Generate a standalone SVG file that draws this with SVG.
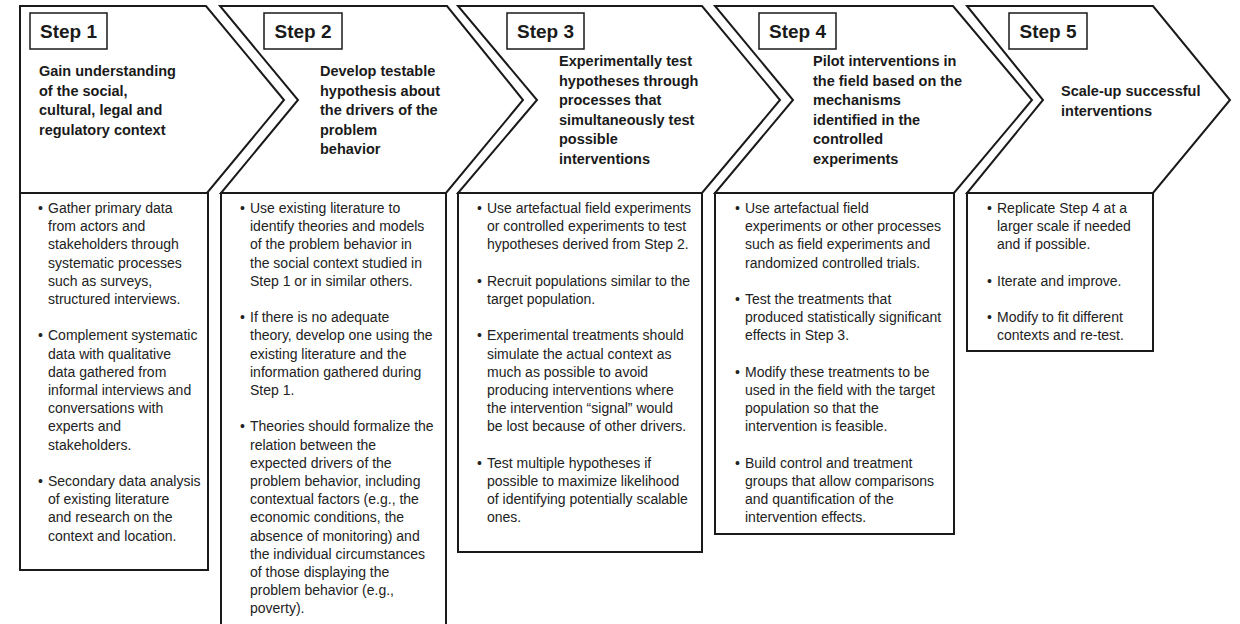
<svg xmlns="http://www.w3.org/2000/svg" width="1240" height="624" viewBox="0 0 1240 624">
<style>
.shape{fill:#fff;stroke:#1a1a1a;stroke-width:2;stroke-linejoin:miter}
.lbl{fill:#fff;stroke:#1a1a1a;stroke-width:1.5}
.lt{font-family:"Liberation Sans",Arial,sans-serif;font-weight:bold;font-size:19px;fill:#1a1a1a;text-anchor:middle}
.hd{font-family:"Liberation Sans",Arial,sans-serif;font-weight:bold;font-size:14.5px;fill:#1a1a1a}
.bd{font-family:"Liberation Sans",Arial,sans-serif;font-size:14px;fill:#222}
</style>
<rect width="1240" height="624" fill="#fff"/>

<g id="step1">
<polygon class="shape" points="20,6 206,6 284,100 207,193 20,193"/>
<rect class="shape" x="20" y="193" width="188" height="377"/>
<rect class="lbl" x="30" y="13" width="77" height="36"/>
<text class="lt" x="68.5" y="38">Step 1</text>
<text class="hd"><tspan x="39" y="76">Gain understanding</tspan><tspan x="39" y="95.5">of the social,</tspan><tspan x="39" y="115">cultural, legal and</tspan><tspan x="39" y="134.5">regulatory context</tspan></text>
<text class="bd"><tspan x="38" y="213">•</tspan><tspan x="48" y="213">Gather primary data</tspan><tspan x="48" y="231.2">from actors and</tspan><tspan x="48" y="249.4">stakeholders through</tspan><tspan x="48" y="267.6">systematic processes</tspan><tspan x="48" y="285.8">such as surveys,</tspan><tspan x="48" y="304">structured interviews.</tspan>
<tspan x="38" y="340.4">•</tspan><tspan x="48" y="340.4">Complement systematic</tspan><tspan x="48" y="358.6">data with qualitative</tspan><tspan x="48" y="376.8">data gathered from</tspan><tspan x="48" y="395">informal interviews and</tspan><tspan x="48" y="413.2">conversations with</tspan><tspan x="48" y="431.4">experts and</tspan><tspan x="48" y="449.6">stakeholders.</tspan>
<tspan x="38" y="486">•</tspan><tspan x="48" y="486">Secondary data analysis</tspan><tspan x="48" y="504.2">of existing literature</tspan><tspan x="48" y="522.4">and research on the</tspan><tspan x="48" y="540.6">context and location.</tspan></text>
</g>

<g id="step2">
<polygon class="shape" points="220,6 447,6 523,100 446,193 221,193 298,100"/>
<rect class="shape" x="221" y="193" width="225" height="450"/>
<rect class="lbl" x="264" y="13" width="78" height="36"/>
<text class="lt" x="303" y="38">Step 2</text>
<text class="hd"><tspan x="320" y="76">Develop testable</tspan><tspan x="320" y="95.5">hypothesis about</tspan><tspan x="320" y="115">the drivers of the</tspan><tspan x="320" y="134.5">problem</tspan><tspan x="320" y="154">behavior</tspan></text>
<text class="bd"><tspan x="240" y="213">•</tspan><tspan x="250" y="213">Use existing literature to</tspan><tspan x="250" y="231.2">identify theories and models</tspan><tspan x="250" y="249.4">of the problem behavior in</tspan><tspan x="250" y="267.6">the social context studied in</tspan><tspan x="250" y="285.8">Step 1 or in similar others.</tspan>
<tspan x="240" y="322.2">•</tspan><tspan x="250" y="322.2">If there is no adequate</tspan><tspan x="250" y="340.4">theory, develop one using the</tspan><tspan x="250" y="358.6">existing literature and the</tspan><tspan x="250" y="376.8">information gathered during</tspan><tspan x="250" y="395">Step 1.</tspan>
<tspan x="240" y="431.4">•</tspan><tspan x="250" y="431.4">Theories should formalize the</tspan><tspan x="250" y="449.6">relation between the</tspan><tspan x="250" y="467.8">expected drivers of the</tspan><tspan x="250" y="486">problem behavior, including</tspan><tspan x="250" y="504.2">contextual factors (e.g., the</tspan><tspan x="250" y="522.4">economic conditions, the</tspan><tspan x="250" y="540.6">absence of monitoring) and</tspan><tspan x="250" y="558.8">the individual circumstances</tspan><tspan x="250" y="577">of those displaying the</tspan><tspan x="250" y="595.2">problem behavior (e.g.,</tspan><tspan x="250" y="613.4">poverty).</tspan></text>
</g>

<g id="step3">
<polygon class="shape" points="458,6 702,6 780,100 702,193 458,193 537,100"/>
<rect class="shape" x="458" y="193" width="244" height="359"/>
<rect class="lbl" x="507" y="13" width="77" height="36"/>
<text class="lt" x="545.5" y="38">Step 3</text>
<text class="hd"><tspan x="559" y="66">Experimentally test</tspan><tspan x="559" y="85.6">hypotheses through</tspan><tspan x="559" y="105.2">processes that</tspan><tspan x="559" y="124.8">simultaneously test</tspan><tspan x="559" y="144.4">possible</tspan><tspan x="559" y="164">interventions</tspan></text>
<text class="bd"><tspan x="477" y="213">•</tspan><tspan x="487" y="213">Use artefactual field experiments</tspan><tspan x="487" y="231.2">or controlled experiments to test</tspan><tspan x="487" y="249.4">hypotheses derived from Step 2.</tspan>
<tspan x="477" y="285.8">•</tspan><tspan x="487" y="285.8">Recruit populations similar to the</tspan><tspan x="487" y="304">target population.</tspan>
<tspan x="477" y="340.4">•</tspan><tspan x="487" y="340.4">Experimental treatments should</tspan><tspan x="487" y="358.6">simulate the actual context as</tspan><tspan x="487" y="376.8">much as possible to avoid</tspan><tspan x="487" y="395">producing interventions where</tspan><tspan x="487" y="413.2">the intervention “signal” would</tspan><tspan x="487" y="431.4">be lost because of other drivers.</tspan>
<tspan x="477" y="467.8">•</tspan><tspan x="487" y="467.8">Test multiple hypotheses if</tspan><tspan x="487" y="486">possible to maximize likelihood</tspan><tspan x="487" y="504.2">of identifying potentially scalable</tspan><tspan x="487" y="522.4">ones.</tspan></text>
</g>

<g id="step4">
<polygon class="shape" points="715,6 953,6 1032,100 954,193 715,193 793,100"/>
<rect class="shape" x="715" y="193" width="239" height="341"/>
<rect class="lbl" x="759" y="13" width="77" height="36"/>
<text class="lt" x="797.5" y="38">Step 4</text>
<text class="hd"><tspan x="813" y="66">Pilot interventions in</tspan><tspan x="813" y="85.6">the field based on the</tspan><tspan x="813" y="105.2">mechanisms</tspan><tspan x="813" y="124.8">identified in the</tspan><tspan x="813" y="144.4">controlled</tspan><tspan x="813" y="164">experiments</tspan></text>
<text class="bd"><tspan x="735" y="213">•</tspan><tspan x="745" y="213">Use artefactual field</tspan><tspan x="745" y="231.2">experiments or other processes</tspan><tspan x="745" y="249.4">such as field experiments and</tspan><tspan x="745" y="267.6">randomized controlled trials.</tspan>
<tspan x="735" y="304">•</tspan><tspan x="745" y="304">Test the treatments that</tspan><tspan x="745" y="322.2">produced statistically significant</tspan><tspan x="745" y="340.4">effects in Step 3.</tspan>
<tspan x="735" y="376.8">•</tspan><tspan x="745" y="376.8">Modify these treatments to be</tspan><tspan x="745" y="395">used in the field with the target</tspan><tspan x="745" y="413.2">population so that the</tspan><tspan x="745" y="431.4">intervention is feasible.</tspan>
<tspan x="735" y="467.8">•</tspan><tspan x="745" y="467.8">Build control and treatment</tspan><tspan x="745" y="486">groups that allow comparisons</tspan><tspan x="745" y="504.2">and quantification of the</tspan><tspan x="745" y="522.4">intervention effects.</tspan></text>
</g>

<g id="step5">
<polygon class="shape" points="967,6 1153,6 1230,100 1153,193 967,193 1043,100"/>
<rect class="shape" x="967" y="193" width="186" height="158"/>
<rect class="lbl" x="1009" y="13" width="78" height="36"/>
<text class="lt" x="1048" y="38">Step 5</text>
<text class="hd"><tspan x="1061" y="96">Scale-up successful</tspan><tspan x="1061" y="115.5">interventions</tspan></text>
<text class="bd"><tspan x="987" y="213">•</tspan><tspan x="997" y="213">Replicate Step 4 at a</tspan><tspan x="997" y="231.2">larger scale if needed</tspan><tspan x="997" y="249.4">and if possible.</tspan>
<tspan x="987" y="285.8">•</tspan><tspan x="997" y="285.8">Iterate and improve.</tspan>
<tspan x="987" y="322.2">•</tspan><tspan x="997" y="322.2">Modify to fit different</tspan><tspan x="997" y="340.4">contexts and re-test.</tspan></text>
</g>

<g id="connectors"></g>
</svg>
